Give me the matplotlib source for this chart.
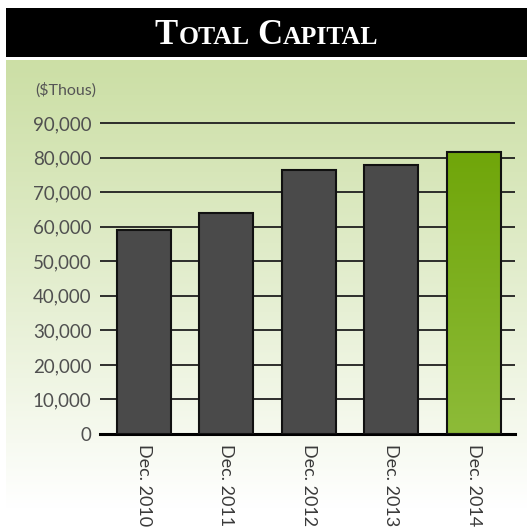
import numpy as np
import matplotlib
matplotlib.use('Agg')
import matplotlib.pyplot as plt
from matplotlib.colors import LinearSegmentedColormap

periods = ['Dec. 2010', 'Dec. 2011', 'Dec. 2012', 'Dec. 2013', 'Dec. 2014']
capital = [59000, 64000, 76400, 77800, 81600]
yticks = [0, 10000, 20000, 30000, 40000, 50000, 60000, 70000, 80000, 90000]

plt.rcParams['font.family'] = ['Lato', 'DejaVu Sans']

W, H = 527, 531
fig = plt.figure(figsize=(W / 100, H / 100), dpi=100)
fig.patch.set_facecolor('white')

# background panel: green fading to white toward the bottom
bg = fig.add_axes([6 / W, 0, 1 - 6 / W, 1 - 60 / H])
bg.set_axis_off()
t = np.linspace(0, 1, 256)[:, None]
fade = np.clip(t * 1.05, 0, 1) ** 1.1
top = np.array([0.80, 0.875, 0.65])
col = top[None, None, :] * (1 - fade[..., None]) + np.ones(3)[None, None, :] * fade[..., None]
bg.imshow(col, aspect='auto', extent=[0, 1, 0, 1])

# title bar
tb = fig.add_axes([6 / W, 1 - 57 / H, 1 - 6 / W, 49 / H])
tb.set_facecolor('black')
tb.set_xticks([])
tb.set_yticks([])
for s in tb.spines.values():
    s.set_visible(False)

# small caps title built from pieces
pieces = [('T', 25), ('OTAL', 18.5), (' ', 18.5), ('C', 25), ('APITAL', 18.5)]
fig.canvas.draw()
r = fig.canvas.get_renderer()
texts = []
for s, sz in pieces:
    txt = tb.text(0, 0.27, s, fontsize=sz, color='white', family='Liberation Serif',
                  fontweight='bold', transform=tb.transAxes, va='baseline')
    texts.append(txt)
widths = [tx.get_window_extent(r).width for tx in texts]
total = sum(widths) + 2
x0 = tb.get_window_extent(r).x0 + (tb.get_window_extent(r).width - total) / 2
inv = tb.transAxes.inverted()
for tx, w in zip(texts, widths):
    tx.set_x(inv.transform((x0, 0))[0])
    x0 += w + 0.5

# main chart
ymax = 91000
ax_top = 434 - (434 - 123) * ymax / 90000
ax = fig.add_axes([100 / W, 1 - 434 / H, 415 / W, (434 - ax_top) / H])
ax.patch.set_alpha(0)
ax.set_yticks(yticks)
ax.set_yticklabels(['{:,}'.format(v) for v in yticks])
ax.yaxis.grid(True, color='#1f1f1f', lw=1.3)
ax.set_axisbelow(True)
ax.tick_params(axis='y', length=0, pad=6, labelsize=13.5, labelcolor='#505050')
ax.tick_params(axis='x', length=0, pad=7, labelsize=13, labelcolor='#3a3a3a')
for s in ['top', 'right', 'left']:
    ax.spines[s].set_visible(False)
ax.spines['bottom'].set_linewidth(2.2)
ax.spines['bottom'].set_color('black')

x = np.arange(len(periods))
colors = ['#4a4a4a'] * 4 + ['none']
bars = ax.bar(x, capital, width=0.655, color=colors, edgecolor='#111111', lw=1.5, zorder=3)
ax.set_xticks(x)
ax.set_xticklabels(periods, rotation=-90, va='top', ha='center')

# last bar filled with a green gradient, darker at the top
last = bars[-1]
cmap = LinearSegmentedColormap.from_list('g', ['#70a60a', '#8dbb38'])
grad = np.linspace(0, 1, 100)[:, None]
im = ax.imshow(grad, cmap=cmap, aspect='auto', zorder=2.5, origin='lower',
               extent=[last.get_x(), last.get_x() + last.get_width(), last.get_height(), 0])
im.set_clip_path(last)
ax.set_xlim(-0.53, 4.5)
ax.set_ylim(0, ymax)

fig.text(35 / W, 1 - 90 / H, '($Thous)', fontsize=11.5, color='#555555', va='center')

fig.savefig('out.png', dpi=100)
